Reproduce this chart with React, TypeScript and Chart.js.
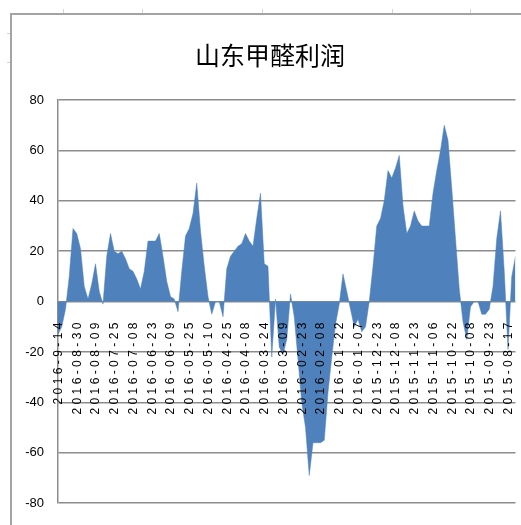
import React, { useEffect, useRef } from "react";
import { Chart, registerables } from "chart.js";

Chart.register(...registerables);

const TITLE = "山东甲醛利润";

const TICK_LABELS = [
  "2016-9-14", "2016-08-30", "2016-08-09", "2016-07-25", "2016-07-08",
  "2016-06-23", "2016-06-09", "2016-05-25", "2016-05-10", "2016-04-25",
  "2016-04-08", "2016-03-24", "2016-03-09", "2016-02-23", "2016-02-08",
  "2016-01-22", "2016-01-07", "2015-12-23", "2015-12-08", "2015-11-23",
  "2015-11-06", "2015-10-22", "2015-10-08", "2015-09-23", "2015-08-17",
];

const LABEL_EVERY = 5;

const PROFIT = [
  -13, -10, -3, 10, 29, 27, 21, 6, 1, 7,
  15, 4, -1, 18, 27, 20, 19, 20, 17, 13,
  12, 9, 5, 12, 24, 24, 24, 27, 18, 8,
  2, 1, -4, 12, 26, 29, 35, 47, 28, 14,
  2, -5, 0, 0, -6, 13, 18, 20, 22, 23,
  27, 24, 22, 33, 43, 15, 14, -22, 1, -18,
  -21, -15, 3, -6, -23, -40, -50, -69, -56, -56,
  -56, -55, -36, -22, -9, -1, 11, 4, -3, -10,
  -7, -12, -10, 0, 14, 30, 33, 40, 52, 49,
  53, 58, 38, 27, 30, 36, 32, 30, 30, 30,
  43, 52, 60, 70, 64, 45, 25, 5, -8, -15,
  -2, 0, 0, -5, -5, -3, 6, 25, 36, 12,
  -19, 10, 18,
];

const Y_MIN = -80;
const Y_MAX = 80;
const Y_STEP = 20;

const framePlugin = {
  id: "frame",
  beforeDraw(chart: any) {
    const ctx = chart.ctx;
    const w = chart.width;
    const h = chart.height;
    ctx.save();
    ctx.fillStyle = "#ffffff";
    ctx.fillRect(0, 0, w, h);
    ctx.strokeStyle = "#d4d4d4";
    ctx.lineWidth = 1;
    [63, 142, 262, 392, 470].forEach((x) => {
      ctx.beginPath();
      ctx.moveTo(x + 0.5, 9);
      ctx.lineTo(x + 0.5, 13);
      ctx.stroke();
    });
    [33, 62].forEach((y) => {
      ctx.beginPath();
      ctx.moveTo(7, y + 0.5);
      ctx.lineTo(10, y + 0.5);
      ctx.stroke();
    });
    ctx.strokeStyle = "#a3a3a3";
    ctx.lineWidth = 2;
    ctx.beginPath();
    ctx.moveTo(11, h);
    ctx.lineTo(11, 14);
    ctx.lineTo(w, 14);
    ctx.stroke();
    ctx.fillStyle = "#000000";
    ctx.font = '25px "Noto Sans CJK SC"';
    ctx.textAlign = "center";
    ctx.textBaseline = "middle";
    ctx.fillText(TITLE, 270, 55);
    ctx.restore();
  },
  afterDatasetsDraw(chart: any) {
    const ctx = chart.ctx;
    const xs = chart.scales.x;
    const ys = chart.scales.y;
    const y0 = ys.getPixelForValue(0) + 21;
    const spacing = 3.4;
    ctx.save();
    ctx.fillStyle = "#000000";
    ctx.font = '12px "Liberation Sans"';
    ctx.textAlign = "left";
    ctx.textBaseline = "middle";
    TICK_LABELS.forEach((label, k) => {
      const x = xs.getPixelForValue(k * LABEL_EVERY);
      ctx.save();
      ctx.translate(x, y0);
      ctx.rotate(-Math.PI / 2);
      let pos = 0;
      for (let i = label.length - 1; i >= 0; i--) {
        const ch = label[i];
        const cw = ctx.measureText(ch).width;
        pos -= cw;
        ctx.fillText(ch, pos, 0.5);
        pos -= spacing;
      }
      ctx.restore();
    });
    ctx.restore();
  },
};

export default function App() {
  const ref = useRef<HTMLCanvasElement | null>(null);

  useEffect(() => {
    document.body.style.margin = "0";
    const canvas = ref.current;
    if (!canvas) return;
    const chart = new Chart(canvas, {
      type: "line",
      data: {
        datasets: [
          {
            data: PROFIT.map((v, i) => ({ x: i, y: v })),
            backgroundColor: "#4f81bd",
            borderColor: "#4f81bd",
            borderWidth: 0.5,
            pointRadius: 0,
            fill: "origin",
            tension: 0,
          },
        ],
      },
      options: {
        animation: false,
        responsive: false,
        devicePixelRatio: 1,
        layout: { padding: { left: 0, right: 5.5, top: 100, bottom: 20 } },
        plugins: {
          legend: { display: false },
          title: { display: false },
          tooltip: { enabled: false },
        },
        scales: {
          x: {
            type: "linear",
            display: false,
            min: 0,
            max: PROFIT.length - 1,
          },
          y: {
            min: Y_MIN,
            max: Y_MAX,
            afterFit(scale: any) {
              scale.width = 58;
            },
            ticks: {
              stepSize: Y_STEP,
              padding: 14,
              color: "#000000",
              font: { family: '"Liberation Sans"', size: 13 },
            },
            grid: {
              color: "#8c8c8c",
              lineWidth: 1.5,
              drawTicks: false,
            },
            border: { color: "#8c8c8c", width: 1.5 },
          },
        },
      },
      plugins: [framePlugin],
    });
    return () => chart.destroy();
  }, []);

  return (
    <div style={{ width: 521, height: 525, position: "relative" }}>
      <canvas ref={ref} width={521} height={525} style={{ display: "block" }} />
    </div>
  );
}
